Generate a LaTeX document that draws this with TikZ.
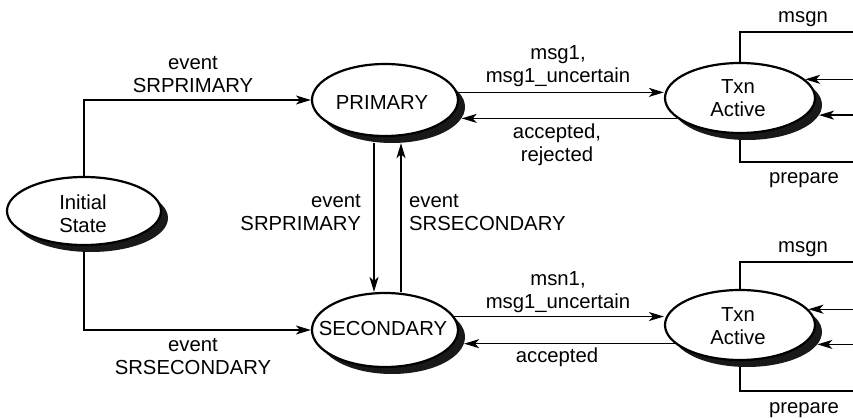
\documentclass[tikz,border=0pt]{standalone}
\usepackage{fontspec}
\setmainfont{Liberation Sans}
\usetikzlibrary{shapes.geometric,arrows.meta}
\begin{document}
\begin{tikzpicture}[x=1pt,y=-1pt,
  state/.style={ellipse, draw, line width=2.2pt, fill=white, inner sep=0pt},
  shade/.style={ellipse, fill=black!90, inner sep=0pt},
  lbl/.style={font=\fontsize{20.3}{23}\selectfont, inner sep=0pt, align=center},
  conn/.style={line width=1.4pt},
  arr/.style={conn, -{Stealth[length=15pt,width=9pt,inset=4pt]}},
]
\useasboundingbox (0,0) rectangle (853,419);
\fill[white] (0,0) rectangle (853,419);

% shadows
\node[shade, minimum width=154pt, minimum height=68pt] (inis) at (91,218) {};
\node[shade, minimum width=146pt, minimum height=72pt] (ps) at (392,107) {};
\node[shade, minimum width=146pt, minimum height=74pt] (ss) at (392,337) {};
\node[shade, minimum width=150pt, minimum height=70pt] (tas) at (747,105) {};
\node[shade, minimum width=150pt, minimum height=70pt] (tbs) at (747,332) {};

% states
\node[state, minimum width=154pt, minimum height=68pt] (ini) at (84,211) {};
\node[state, minimum width=146pt, minimum height=72pt] (p) at (385,100) {};
\node[state, minimum width=146pt, minimum height=74pt] (s) at (385,330) {};
\node[state, minimum width=150pt, minimum height=70pt] (ta) at (740,98) {};
\node[state, minimum width=150pt, minimum height=70pt] (tb) at (740,325) {};

% state texts
\node[lbl] (init) at (83,214) {Initial\\State};
\node[lbl, anchor=base] (pt) at (382,110) {PRIMARY};
\node[lbl, anchor=base] (st) at (383,335) {SECONDARY};
\node[lbl] (tat) at (738,98) {Txn\\Active};
\node[lbl] (tbt) at (738,326) {Txn\\Active};

% helper coordinates
\coordinate (rb) at (853,0);
\coordinate (dx) at (374,0);
\coordinate (ux) at (401,0);
\coordinate (ta1) at (853,32);
\coordinate (ta2) at (853,162);
\coordinate (tb1) at (853,262);
\coordinate (tb2) at (853,391);

% connectors
\draw[arr] (ini.north) |- (p.west);
\draw[arr] (ini.south |- inis.south) |- (s.west);
\draw[arr] (dx |- ps.south) -- (dx |- s.north);
\draw[arr] (ux |- s.north) -- (ux |- ps.south);
\draw[arr] (p.6) -- (p.6 -| ta.west);
\draw[arr] (ta.198) -- (ta.198 -| ps.-9);
\draw[arr] (s.11) -- (s.11 -| tb.west);
\draw[arr] (tb.196) -- (tb.196 -| ss.-5);

\draw[conn] (ta.north) |- (ta1);
\draw[arr] (ta.16 -| rb) -- (ta.16);
\draw[arr] (tas.-8 -| rb) -- (tas.-8);
\draw[conn] (ta.south |- tas.south) |- (ta2);

\draw[conn] (tb.north) |- (tb1);
\draw[arr] (tb.13 -| rb) -- (tb.13);
\draw[arr] (tbs.-10 -| rb) -- (tbs.-10);
\draw[conn] (tb.south |- tbs.south) |- (tb2);

% labels
\node[lbl] (l1) at (193,74.5) {event\\SRPRIMARY};
\node[lbl] (l2) at (193,357) {event\\SRSECONDARY};
\node[lbl, anchor=east, align=right] (l3) at (361,213) {event\\SRPRIMARY};
\node[lbl, anchor=west, align=left] (l4) at (409,213) {event\\SRSECONDARY};
\node[lbl] (l5) at (558,66.6) {msg1,\\msg1\_uncertain};
\node[lbl] (l6) at (557,145) {accepted,\\rejected};
\node[lbl] (l7) at (558,292.6) {msn1,\\msg1\_uncertain};
\node[lbl, anchor=base] (l8) at (557,362) {accepted};
\node[lbl, anchor=base] (m1) at (803,23) {msgn};
\node[lbl, anchor=base] (r1) at (804,184) {prepare};
\node[lbl, anchor=base] (m2) at (803,253) {msgn};
\node[lbl, anchor=base] (r2) at (804,413) {prepare};
\end{tikzpicture}
\end{document}
